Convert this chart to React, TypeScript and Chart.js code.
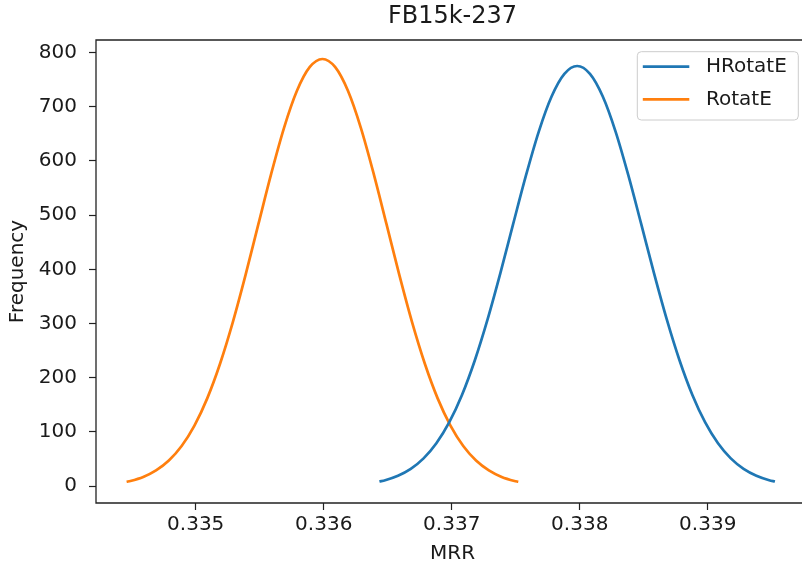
import React, { useEffect, useRef } from "react";
import { Chart, registerables } from "chart.js";

Chart.register(...registerables);

const TITLE = "FB15k-237";
const X_LABEL = "MRR";
const Y_LABEL = "Frequency";

const hrotateLabel = "HRotatE";
const rotateLabel = "RotatE";

const hrotateX = [
  0.336435, 0.33648, 0.33658, 0.33668, 0.33678, 0.33688, 0.33698, 0.33708, 0.33718,
  0.33728, 0.33738, 0.33748, 0.33758, 0.33768, 0.33778, 0.33788, 0.33798, 0.33808,
  0.33818, 0.33828, 0.33838, 0.33848, 0.33858, 0.33868, 0.33878, 0.33888, 0.33898,
  0.33908, 0.33918, 0.33928, 0.33938, 0.33948, 0.339525,
];
const hrotateY = [
  8.6, 11.1, 19.3, 32.0, 51.3, 79.2, 117.6, 168.3, 231.9, 307.7, 393.1, 483.8, 573.2,
  654.1, 718.7, 760.5, 775.0, 760.5, 718.7, 654.1, 573.2, 483.8, 393.1, 307.7, 231.9,
  168.3, 117.6, 79.2, 51.3, 32.0, 19.3, 11.1, 8.6,
];

const rotateX = [
  0.33446, 0.33449, 0.33459, 0.33469, 0.33479, 0.33489, 0.33499, 0.33509, 0.33519,
  0.33529, 0.33539, 0.33549, 0.33559, 0.33569, 0.33579, 0.33589, 0.33599, 0.33609,
  0.33619, 0.33629, 0.33639, 0.33649, 0.33659, 0.33669, 0.33679, 0.33689, 0.33699,
  0.33709, 0.33719, 0.33729, 0.33739, 0.33749, 0.33752,
];
const rotateY = [
  8.2, 9.7, 17.1, 29.1, 47.4, 74.2, 111.8, 162.0, 225.8, 302.6, 390.1, 483.7, 576.5,
  661.0, 728.8, 772.8, 788.0, 772.8, 728.8, 661.0, 576.5, 483.7, 390.1, 302.6, 225.8,
  162.0, 111.8, 74.2, 47.4, 29.1, 17.1, 9.7, 8.2,
];

const xTicks = [0.335, 0.336, 0.337, 0.338, 0.339];
const yTicks = [0, 100, 200, 300, 400, 500, 600, 700, 800];
const X_MIN = 0.334221;
const X_MAX = 0.339791;
const Y_MIN = -31;
const Y_MAX = 823;

const BLUE = "#1f77b4";
const ORANGE = "#ff7f0e";
const TEXT = "#1a1a1a";
const FONT = "'DejaVu Sans', sans-serif";

const framePlugin = {
  id: "frame",
  afterDatasetsDraw(chart: any) {
    const { ctx, chartArea } = chart;
    const { left, top, right, bottom } = chartArea;
    ctx.save();
    ctx.strokeStyle = "#222";
    ctx.lineWidth = 1.3;
    ctx.beginPath();
    ctx.moveTo(right + 2, top);
    ctx.lineTo(left, top);
    ctx.lineTo(left, bottom);
    ctx.lineTo(right + 2, bottom);
    ctx.stroke();
    ctx.restore();
  },
};

const legendPlugin = {
  id: "mplLegend",
  afterDraw(chart: any) {
    const { ctx, chartArea } = chart;
    const ds = chart.data.datasets;
    const right = chartArea.right - 10.7;
    const top = chartArea.top + 11.7;
    const w = 161;
    const h = 68.3;
    const left = right - w;
    ctx.save();
    ctx.beginPath();
    const r = 4;
    ctx.moveTo(left + r, top);
    ctx.lineTo(right - r, top);
    ctx.quadraticCurveTo(right, top, right, top + r);
    ctx.lineTo(right, top + h - r);
    ctx.quadraticCurveTo(right, top + h, right - r, top + h);
    ctx.lineTo(left + r, top + h);
    ctx.quadraticCurveTo(left, top + h, left, top + h - r);
    ctx.lineTo(left, top + r);
    ctx.quadraticCurveTo(left, top, left + r, top);
    ctx.closePath();
    ctx.fillStyle = "rgba(255,255,255,0.8)";
    ctx.fill();
    ctx.strokeStyle = "#cccccc";
    ctx.lineWidth = 1;
    ctx.stroke();
    ds.forEach((d: any, i: number) => {
      const y = top + 15 + i * 32.6;
      ctx.beginPath();
      ctx.strokeStyle = d.borderColor;
      ctx.lineWidth = 2.7;
      ctx.moveTo(left + 5.5, y);
      ctx.lineTo(left + 52, y);
      ctx.stroke();
      ctx.fillStyle = TEXT;
      ctx.font = `20px ${FONT}`;
      ctx.textBaseline = "middle";
      ctx.textAlign = "left";
      ctx.fillText(d.label, left + 68.7, y);
    });
    ctx.restore();
  },
};

export default function App() {
  const ref = useRef<HTMLCanvasElement>(null);
  useEffect(() => {
    if (!ref.current) return;
    Chart.defaults.font.family = FONT;
    const chart = new Chart(ref.current, {
      type: "line",
      data: {
        datasets: [
          {
            label: hrotateLabel,
            data: hrotateX.map((x, i) => ({ x, y: hrotateY[i] })),
            borderColor: BLUE,
            backgroundColor: BLUE,
            borderWidth: 2.7,
            pointRadius: 0,
            cubicInterpolationMode: "monotone",
            fill: false,
          },
          {
            label: rotateLabel,
            data: rotateX.map((x, i) => ({ x, y: rotateY[i] })),
            borderColor: ORANGE,
            backgroundColor: ORANGE,
            borderWidth: 2.7,
            pointRadius: 0,
            cubicInterpolationMode: "monotone",
            fill: false,
          },
        ],
      },
      options: {
        animation: false,
        responsive: false,
        devicePixelRatio: 1,
        layout: { padding: { left: 0, right: 3, top: 0, bottom: 0 } },
        plugins: {
          legend: { display: false },
          tooltip: { enabled: false },
          title: {
            display: true,
            text: TITLE,
            fullSize: false,
            color: TEXT,
            font: { size: 24, weight: "normal", family: FONT, lineHeight: 1.2 },
            padding: { top: 2, bottom: 9.2 },
          },
        },
        scales: {
          x: {
            type: "linear",
            min: X_MIN,
            max: X_MAX,
            afterFit: (s: any) => {
              s.height = 64;
            },
            afterBuildTicks: (s: any) => {
              s.ticks = xTicks.map((v) => ({ value: v }));
            },
            ticks: {
              color: TEXT,
              font: { size: 20, family: FONT, lineHeight: 1.2 },
              padding: 3,
              maxRotation: 0,
              autoSkip: false,
              callback: (v: any) => Number(v).toFixed(3),
            },
            grid: {
              display: true,
              drawOnChartArea: false,
              drawTicks: true,
              tickLength: 7,
              tickColor: "#222",
              tickWidth: 1.2,
            },
            border: { display: false },
            title: {
              display: true,
              text: X_LABEL,
              color: TEXT,
              font: { size: 20, family: FONT, lineHeight: 1.2 },
              padding: { top: 0, bottom: 1 },
            },
          },
          y: {
            type: "linear",
            min: Y_MIN,
            max: Y_MAX,
            afterFit: (s: any) => {
              s.width = 96;
            },
            afterBuildTicks: (s: any) => {
              s.ticks = yTicks.map((v) => ({ value: v }));
            },
            ticks: {
              color: TEXT,
              font: { size: 20, family: FONT, lineHeight: 1.2 },
              padding: 12,
              autoSkip: false,
              callback: (v: any) => String(v),
            },
            grid: {
              display: true,
              drawOnChartArea: false,
              drawTicks: true,
              tickLength: 7,
              tickColor: "#222",
              tickWidth: 1.2,
            },
            border: { display: false },
            title: {
              display: true,
              text: Y_LABEL,
              color: TEXT,
              font: { size: 20, family: FONT, lineHeight: 1.2 },
              padding: { top: 6, bottom: 0 },
            },
          },
        },
      } as any,
      plugins: [framePlugin, legendPlugin],
    });
    return () => chart.destroy();
  }, []);
  return (
    <div
      style={{
        position: "fixed",
        left: 0,
        top: 0,
        width: 802,
        height: 567,
        overflow: "hidden",
        background: "#fff",
      }}
    >
      <canvas ref={ref} width={812} height={567} style={{ width: 812, height: 567, display: "block" }} />
    </div>
  );
}
